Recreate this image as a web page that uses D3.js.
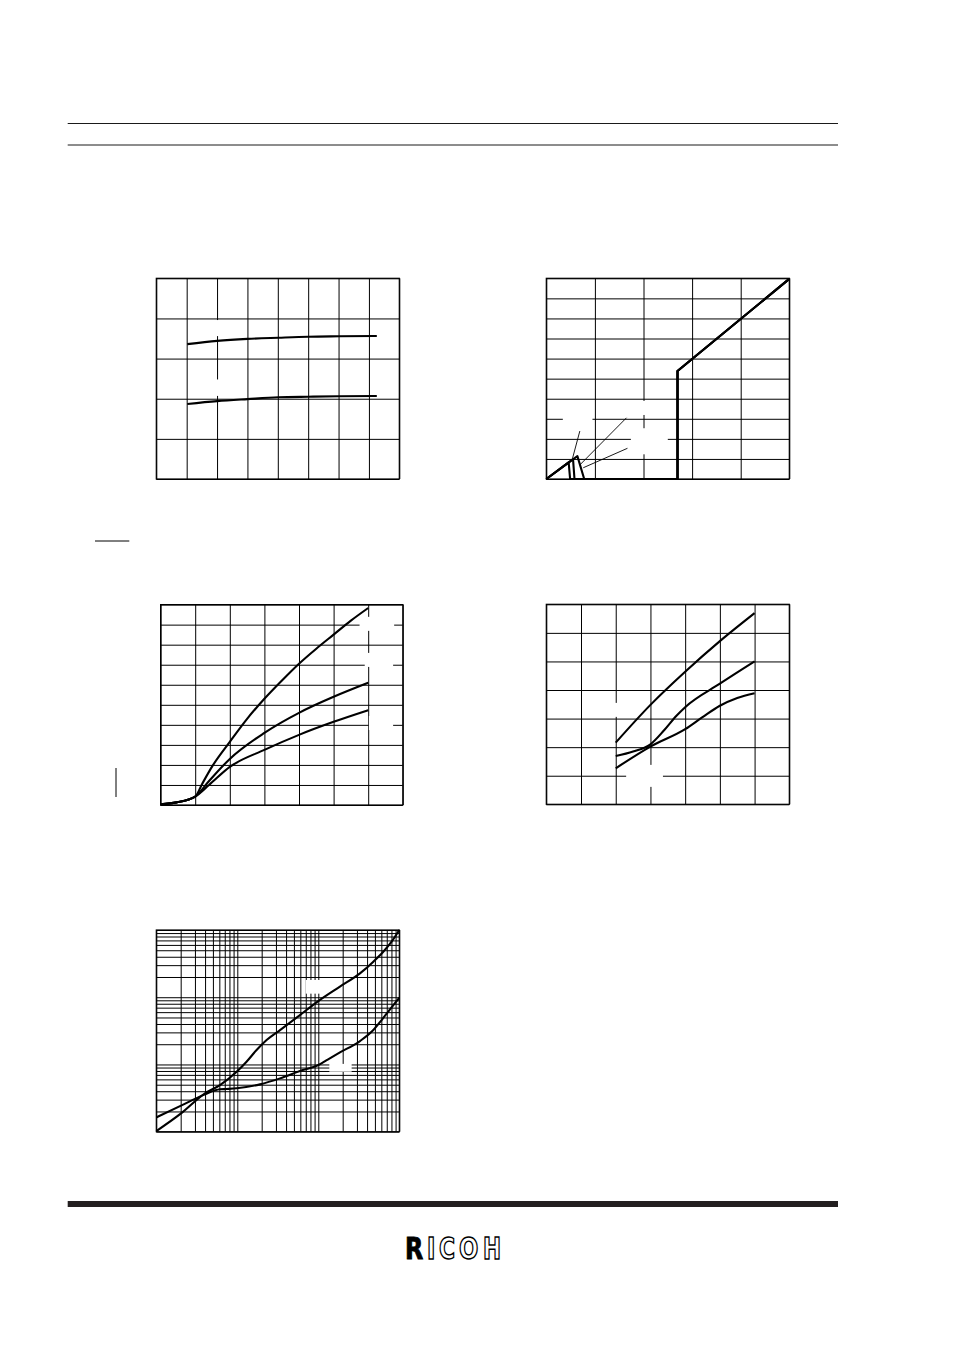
<!DOCTYPE html>
<html>
<head>
<meta charset="utf-8">
<script src="https://cdn.jsdelivr.net/npm/d3@7"></script>
<style>
  html, body { margin: 0; padding: 0; background: #fff; }
  svg { display: block; }
</style>
</head>
<body>
<div id="chart"></div>
<script>
// ---------------- DATA ----------------
// Chart 1 (top-left): two nearly flat curves
const c1XTicks = [0, 1, 2, 3, 4, 5, 6, 7, 8];
const c1YTicks = [0, 1, 2, 3, 4, 5];
const c1Upper = [[1.02, 3.36], [2.0, 3.44], [3.0, 3.49], [4.02, 3.52], [5.0, 3.545], [6.01, 3.555], [7.26, 3.563]];
const c1Lower = [[1.02, 1.87], [2.0, 1.94], [3.0, 1.99], [4.02, 2.035], [5.0, 2.05], [6.01, 2.06], [7.26, 2.068]];
const c1Boxes = [[1.6, 3.56, 2.4, 3.96], [1.6, 2.07, 2.4, 2.48]];

// Chart 2 (top-right): detector output vs input, three hysteresis traces
const c2XTicks = [0, 1, 2, 3, 4, 5];
const c2YTicks = [0, 1, 2, 3, 4, 5, 6, 7, 8, 9, 10];
const c2Trace1 = [[0, 0], [0.46, 0.83], [0.49, 0], [2.70, 0], [2.70, 5.38], [5, 9.97]];
const c2Trace2 = [[0, 0], [0.55, 0.99], [0.58, 0], [2.70, 0], [2.70, 5.38], [5, 9.97]];
const c2Trace3 = [[0, 0], [0.64, 1.14], [0.78, 0], [2.70, 0], [2.70, 5.38], [5, 9.97]];
const c2Leaders = [[[0.69, 2.39], [0.54, 1.03]], [[1.65, 3.05], [0.69, 0.70]], [[1.67, 1.53], [0.76, 0.56]]];
const c2Boxes = [[0.34, 2.64, 0.95, 3.29], [1.74, 3.19, 2.5, 3.89], [1.74, 1.23, 2.5, 2.53]];

// Chart 3 (middle-left): three rising curves
const c3XTicks = [0, 1, 2, 3, 4, 5, 6, 7];
const c3YTicks = [0, 1, 2, 3, 4, 5, 6, 7, 8, 9, 10];
const c3Top = [[0, 0.03], [0.46, 0.13], [1, 0.42], [1.2, 1.05], [1.5, 1.95], [2.0, 3.15], [2.5, 4.3], [3, 5.3],
               [3.5, 6.2], [4, 7.05], [4.5, 7.8], [5, 8.5], [5.5, 9.2], [6.0, 9.83]];
const c3Mid = [[0, 0.03], [0.46, 0.13], [1, 0.42], [1.4, 1.2], [2, 2.3], [3, 3.6], [4, 4.6], [5, 5.4], [6, 6.1]];
const c3Bot = [[0, 0.03], [0.46, 0.13], [1, 0.42], [1.4, 1.0], [2, 1.9], [3, 2.75], [4, 3.5], [5, 4.15], [6, 4.73]];
const c3Boxes = [[5.75, 8.69, 6.75, 9.39], [5.9, 6.89, 6.72, 7.59], [6.02, 3.74, 6.72, 4.44]];

// Chart 4 (middle-right): three curves starting at x = 2
const c4XTicks = [0, 1, 2, 3, 4, 5, 6, 7];
const c4YTicks = [0, 1, 2, 3, 4, 5, 6, 7];
const c4Top = [[2, 2.16], [3, 3.48], [4, 4.64], [5, 5.71], [6, 6.69]];
const c4Mid = [[2, 1.69], [2.5, 1.85], [3, 2.1], [3.4, 2.6], [3.75, 3.1], [4, 3.4], [5, 4.22], [6, 5.0]];
const c4Bot = [[2, 1.26], [3, 2.02], [4, 2.63], [4.5, 3.05], [5, 3.45], [5.5, 3.72], [6, 3.89]];
const c4Boxes = [[1.7, 3.06, 2.25, 3.55], [2.3, 0.61, 3.36, 1.38]];

// Chart 5 (bottom-left): log-log, two curves
const c5Ticks = [1, 2, 3, 4, 5, 6, 7, 8, 9, 10, 20, 30, 40, 50, 60, 70, 80, 90,
                 100, 200, 300, 400, 500, 600, 700, 800, 900, 1000];
const c5CurveA = [[1, 1.02], [2.02, 1.87], [3.99, 3.72], [6.11, 4.94], [9.82, 7.8], [13.0, 11.0], [17.3, 16.4],
                  [23.0, 23.1], [33.7, 32.5], [59.4, 54.3], [100, 87.7], [185, 144], [327, 226], [478, 338],
                  [634, 475], [804, 670], [1000, 998]];
const c5CurveB = [[1, 1.63], [2.02, 2.44], [3.99, 3.59], [6.11, 4.27], [7.38, 4.32], [9.82, 4.42], [19.05, 5.06],
                  [33.7, 6.21], [59.4, 7.98], [100, 9.8], [127, 11.6], [185, 15.1], [327, 22.3], [478, 32.5],
                  [605, 45.8], [767, 66], [1000, 98.4]];
const c5Boxes = [[69.9, 113, 105, 180.6], [136.8, 7.8, 258, 10.2]];

// Logo letters
const logoLetters = ['R', 'I', 'C', 'O', 'H'];

// ---------------- LAYOUT ----------------
const W = 954, H = 1351;
const svg = d3.select('#chart').append('svg').attr('width', W).attr('height', H)
  .style('font-family', 'Liberation Sans, Arial, sans-serif');

// Page rules
svg.append('line').attr('x1', 67.7).attr('x2', 838).attr('y1', 123.5).attr('y2', 123.5).attr('stroke', '#1a1a1a').attr('stroke-width', 1);
svg.append('line').attr('x1', 67.7).attr('x2', 838).attr('y1', 145).attr('y2', 145).attr('stroke', '#1a1a1a').attr('stroke-width', 1);
svg.append('rect').attr('x', 67.7).attr('y', 1201).attr('width', 770.3).attr('height', 6).attr('fill', '#231f20');

function makeChart(o) {
  const g = svg.append('g').attr('transform', `translate(${o.left},${o.top})`);
  const x = (o.log ? d3.scaleLog() : d3.scaleLinear()).domain(o.xDomain).range([0, o.w]);
  const y = (o.log ? d3.scaleLog() : d3.scaleLinear()).domain(o.yDomain).range([o.h, 0]);
  // grid from axes
  g.append('g').attr('transform', `translate(0,${o.h})`)
    .call(d3.axisBottom(x).tickValues(o.xTicks).tickSize(-o.h).tickFormat(''))
    .call(s => { s.select('.domain').remove(); s.selectAll('line').attr('stroke', '#000').attr('stroke-width', 1); });
  g.append('g')
    .call(d3.axisLeft(y).tickValues(o.yTicks).tickSize(-o.w).tickFormat(''))
    .call(s => { s.select('.domain').remove(); s.selectAll('line').attr('stroke', '#000').attr('stroke-width', 1); });
  // label backgrounds (blank)
  g.selectAll('rect.lbl').data(o.boxes || []).enter().append('rect').attr('class', 'lbl')
    .attr('x', d => x(d[0])).attr('y', d => y(d[3]))
    .attr('width', d => x(d[2]) - x(d[0])).attr('height', d => y(d[1]) - y(d[3]))
    .attr('fill', '#fff');
  // frame
  g.append('rect').attr('x', 0).attr('y', 0).attr('width', o.w).attr('height', o.h)
    .attr('fill', 'none').attr('stroke', '#000').attr('stroke-width', 1.2);
  const line = d3.line().x(d => x(d[0])).y(d => y(d[1])).curve(o.curve || d3.curveMonotoneX);
  (o.series || []).forEach(s => {
    g.append('path').datum(s).attr('d', line).attr('fill', 'none')
      .attr('stroke', '#000').attr('stroke-width', 2.1).attr('stroke-linejoin', 'round');
  });
  (o.leaders || []).forEach(l => {
    g.append('line').attr('x1', x(l[0][0])).attr('y1', y(l[0][1]))
      .attr('x2', x(l[1][0])).attr('y2', y(l[1][1]))
      .attr('stroke', '#000').attr('stroke-width', 0.9);
  });
  return g;
}

makeChart({ left: 156.3, top: 278.3, w: 243, h: 200.7, xDomain: [0, 8], yDomain: [0, 5],
  xTicks: c1XTicks, yTicks: c1YTicks, series: [c1Upper, c1Lower], boxes: c1Boxes });

makeChart({ left: 546.3, top: 278.3, w: 243, h: 200.7, xDomain: [0, 5], yDomain: [0, 10],
  xTicks: c2XTicks, yTicks: c2YTicks, series: [c2Trace1, c2Trace2, c2Trace3], boxes: c2Boxes,
  leaders: c2Leaders, curve: d3.curveLinear });

makeChart({ left: 160.6, top: 604.6, w: 242.2, h: 200.4, xDomain: [0, 7], yDomain: [0, 10],
  xTicks: c3XTicks, yTicks: c3YTicks, series: [c3Top, c3Mid, c3Bot], boxes: c3Boxes });

makeChart({ left: 546.3, top: 604.3, w: 243, h: 200, xDomain: [0, 7], yDomain: [0, 7],
  xTicks: c4XTicks, yTicks: c4YTicks, series: [c4Top, c4Mid, c4Bot], boxes: c4Boxes });

makeChart({ left: 156.3, top: 930, w: 243, h: 201.7, xDomain: [1, 1000], yDomain: [1, 1000], log: true,
  xTicks: c5Ticks, yTicks: c5Ticks, series: [c5CurveA, c5CurveB], boxes: c5Boxes });

// remnants of label decorations near chart 3
svg.append('line').attr('x1', 95).attr('x2', 129.3).attr('y1', 541).attr('y2', 541).attr('stroke', '#000').attr('stroke-width', 1);
svg.append('line').attr('x1', 116).attr('x2', 116).attr('y1', 768).attr('y2', 797).attr('stroke', '#000').attr('stroke-width', 1);

// RICOH logo
const logoX = [405, 427, 439, 459, 483];
const logoW = [18.3, 8.3, 16, 19.3, 18];
const logo = svg.append('g')
  .attr('font-family', 'Liberation Sans Narrow, DejaVu Sans Condensed, Liberation Sans, sans-serif')
  .attr('font-weight', 'bold').attr('font-size', 29.5)
  .attr('opacity', 0.995);
logoLetters.forEach((t, i) => {
  logo.append('text').attr('x', logoX[i]).attr('y', 1258.5).text(t)
    .attr('textLength', logoW[i]).attr('lengthAdjust', 'spacingAndGlyphs')
    .attr('fill', i === 0 ? '#000' : '#fff').attr('stroke', '#000')
    .attr('stroke-width', i === 0 ? 0.8 : 1.4);
});
</script>
</body>
</html>
